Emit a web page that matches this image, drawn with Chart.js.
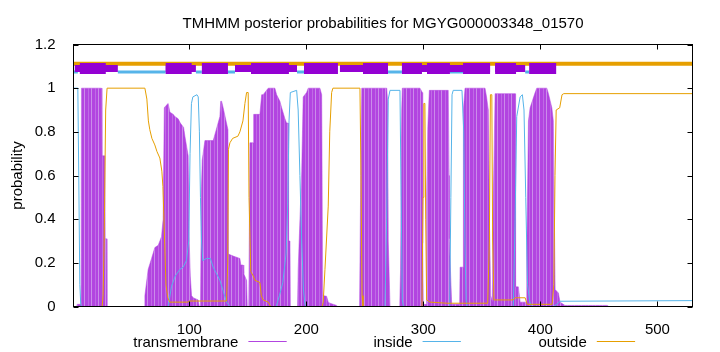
<!DOCTYPE html>
<html><head><meta charset="utf-8">
<script src="https://cdn.jsdelivr.net/npm/chart.js@4.4.1/dist/chart.umd.min.js"></script>
<style>html,body{margin:0;padding:0;background:#fff}#wrap{width:720px;height:352px;position:relative}</style>
</head><body><div id="wrap"><canvas id="c" width="720" height="352"></canvas></div>
<script>
const titleText = 'TMHMM posterior probabilities for MGYG000003348_01570';
const yAxisTitle = 'probability';
const seriesNames = ['transmembrane', 'inside', 'outside'];
const seqStart = 1;
const seqEnd = 530;
const xTicks = [100, 200, 300, 400, 500];
const yTicks = [0, 0.2, 0.4, 0.6, 0.8, 1, 1.2];

// posterior probability curves: [residue, probability]
const transmembrane = [
[1,0],[3.8,0],[4.1,0.01],[7.4,0.01],[7.8,1.0],[24.9,1.0],[25.3,0.69],[27.8,0.69],[28.1,0.31],[29.2,0.31],[29.6,0],
[61.5,0],[62,0.05],[64.8,0.17],[67.7,0.22],[70.5,0.27],[73.4,0.28],[76.2,0.32],[77.6,0.40],[78.6,0.91],[80,0.92],[81.9,0.93],[83.4,0.89],[86.2,0.88],[87.6,0.87],[90.4,0.86],[92.3,0.84],[95.1,0.82],[96.2,0.78],[99,0.69],[99.8,0.32],[100.8,0.14],[101.9,0.05],[103.3,0.04],[107.6,0.03],[108.5,0],
[109.5,0],[110.4,0.55],[111,0.67],[113.3,0.76],[120.4,0.76],[123,0.81],[126.1,0.87],[126.8,0.94],[127.6,0.94],[128.9,0.91],[133,0.81],[133.4,0.24],[138,0.23],[143.2,0.22],[144,0.19],[146,0.19],[146.5,0.15],[148.9,0.12],[149.5,0],
[150.8,0],[151.8,0.75],[154.6,0.75],[155,0.88],[160.3,0.88],[161.8,0.97],[163.1,0.97],[167.4,1.0],[173.1,1.0],[174.6,0.97],[177.4,0.94],[178.9,0.91],[181.7,0.86],[183.1,0.84],[184.5,0.84],[184.8,0.3],[186,0.3],[186.3,0],
[192.5,0],[193,0.17],[196,0.62],[197.3,0.96],[200.2,0.98],[201.6,1.0],[211.6,1.0],[213.1,0.97],[214,0.05],[217.3,0.047],[218.7,0.02],[220.2,0.015],[225.9,0.005],[226.5,0],
[245.5,0],[246.3,0.5],[247.3,1.0],[268.7,1.0],[269.5,0.93],[270,0.3],[271.5,0],
[279.8,0],[280.5,0.17],[281.5,0.9],[282,1.0],[297.1,1.0],[299.1,0.98],[299.4,0.29],[299.9,0.01],[302.5,0.01],[302.8,0.5],[303.7,0.81],[305.1,0.99],[321.3,0.99],[322,0.6],[322.2,0.31],[324.2,0.01],[331,0.01],[331.4,0.18],[334,0.18],[334.2,0.9],[335.6,1.0],[352.7,1.0],[354,0.96],[355.5,0.9],[356.4,0.4],[357.6,0.05],[359,0.02],[359.8,0.5],[361.3,0.975],[378.4,0.975],[378.8,0.09],[381.2,0.09],[382.7,0.02],[388.2,0.02],[388.4,0.245],[389.8,0.85],[391.2,0.91],[395.5,0.98],[396.9,1.0],[405.5,1.0],[406.9,0.975],[409.8,0.91],[411.1,0.85],[412.6,0.078],[415.4,0.062],[416.8,0.02],[419.6,0.01],[420,0.005],[457,0.005],[457.5,0],[530,0]
];
const inside = [
[1,1.0],[4.7,1.0],[5.5,0.6],[6.4,0.1],[7.2,0.01],[8,0],[81.9,0],[84.8,0.093],[88,0.14],[91.9,0.17],[94.7,0.18],[97.5,0.21],[99.5,0.3],[100.6,0.7],[101.8,0.93],[103,0.96],[106.5,0.97],[107.6,0.96],[108.6,0.8],[109.5,0.5],[110.4,0.3],[111.5,0.21],[114.5,0.22],[118,0.22],[120.4,0.18],[126.1,0.12],[129,0.07],[131.8,0.02],[134.7,0],
[174.2,0],[177,0.05],[179.9,0.11],[182.7,0.245],[184.1,0.47],[185.2,0.85],[186.3,0.98],[191.7,0.99],[193,0.9],[194.5,0.6],[196,0.3],[197.5,0.08],[198.8,0.01],[199.5,0],
[267.2,0],[268.6,0.4],[270,0.95],[271.5,0.99],[280,0.99],[281,0.5],[282,0.03],[283,0],
[322.5,0],[323.5,0.5],[324.5,0.97],[325.5,0.99],[333,0.99],[334.5,0.8],[335.5,0.3],[336.5,0.03],[337.5,0],
[376.9,0],[378.4,0.4],[379.8,0.87],[382.7,0.96],[384.6,0.97],[386,0.9],[387.5,0.5],[389,0.1],[391,0.02],[393,0],
[411,0],[414,0.01],[416.8,0.024],[530,0.027]
];
const outside = [
[1,0],[25.5,0],[26.3,0.05],[27.2,0.3],[28.5,0.9],[29.7,1.0],[62,1.0],[63.7,0.95],[65,0.85],[66.2,0.81],[68,0.77],[70.5,0.74],[72.3,0.71],[74.8,0.68],[76.5,0.62],[77.4,0.55],[78.6,0.35],[80,0.1],[81.6,0.04],[83.3,0.02],[98.7,0.02],[100,0.025],[126.1,0.025],[131.8,0.025],[132.8,0.2],[133.4,0.72],[134.7,0.75],[137,0.77],[141.5,0.78],[143.2,0.8],[145.8,0.85],[147.5,0.93],[148.9,0.98],[150.3,0.98],[151,0.5],[152.5,0.16],[154.6,0.14],[156,0.12],[160.3,0.11],[161.5,0.05],[163.1,0.03],[167.4,0.02],[169.5,0],
[213.5,0],[214.4,0.02],[215.9,0.17],[218.7,0.46],[220,0.8],[221.6,0.98],[222.7,1.0],[245.8,1.0],[246.7,0.6],[247.6,0.05],[248.4,0],
[298.8,0],[299.7,0.5],[300.4,0.93],[301.3,0.93],[302,0.4],[302.8,0.03],[305.7,0.02],[320,0.015],[355,0.015],[356.4,0.3],[357.3,0.97],[358.5,0.97],[359.2,0.3],[360.3,0.03],[376.7,0.03],[378.5,0.04],[387,0.04],[388.7,0.01],[410,0.01],[411.5,0.1],[412.5,0.6],[413.5,0.9],[416.5,0.91],[418.5,0.97],[420,0.975],[530,0.975]
];

// predicted topology strip: [start residue, end residue]
const topoOutside = [[1,530]];
const topoInside = [[1,4.7],[38.9,79.8],[105.6,110.7],[133,139],[192,198.5],[269.8,281.7],[322.7,334],[387,390.5]];
const topoHelixBand = [[2.1,38.9],[79.8,105.6],[139,192],[228.7,269.8],[281.7,339.9],[331.4,357],[361.3,387]];
const topoHelixCore = [[6.4,28.6],[79.8,102],[110.7,133],[152.7,185.1],[198,227],[248.4,269.8],[281.7,298.8],[303.1,322.7],[333.9,357],[361.3,379.2],[390.4,413.5]];

const FONT = '"Liberation Sans", Arial, Helvetica, sans-serif';
const C_TM = '#b245e0', C_TM_LIGHT = '#cb8cea', C_TM_BOX = '#9400d3';
const C_IN = '#56b4e9', C_OUT = '#e69f00';
const LEVEL = {outside: 1.112, inside: 1.074, helix: 1.09};

const pts = arr => arr.map(([x, y]) => ({x, y}));
const segs = (list, level) => list.flatMap(([s, e]) => [{x: s, y: level}, {x: e, y: level}, {x: e, y: null}]);

function stripePattern() {
  const pc = document.createElement('canvas');
  pc.width = 7; pc.height = 4;
  const g = pc.getContext('2d');
  g.fillStyle = C_TM; g.fillRect(0, 0, 7, 4);
  g.fillStyle = C_TM_LIGHT; g.fillRect(0, 0, 1, 4);
  g.fillStyle = '#c06ae6'; g.fillRect(4, 0, 1, 4);
  return g.createPattern(pc, 'repeat');
}

Chart.defaults.font.family = FONT;
Chart.defaults.font.size = 15;
Chart.defaults.color = '#000';

const TL = 5;
const deco = {
  id: 'deco',
  afterDatasetsDraw(chart) {
    const {ctx, chartArea: a, scales: {x, y}} = chart;
    ctx.save();
    ctx.strokeStyle = '#000'; ctx.lineWidth = 1;
    ctx.beginPath();
    xTicks.forEach(v => { const p = Math.round(x.getPixelForValue(v)) + 0.5;
      ctx.moveTo(p, a.bottom); ctx.lineTo(p, a.bottom - TL); ctx.moveTo(p, a.top); ctx.lineTo(p, a.top + TL); });
    yTicks.forEach(v => { const p = Math.round(y.getPixelForValue(v)) + 0.5;
      ctx.moveTo(a.left, p); ctx.lineTo(a.left + TL, p); ctx.moveTo(a.right, p); ctx.lineTo(a.right - TL, p); });
    ctx.stroke();
    ctx.strokeRect(a.left, a.top, a.right - a.left, a.bottom - a.top);
    ctx.fillStyle = '#000';
    ctx.font = '15px ' + FONT;
    ctx.textAlign = 'center'; ctx.textBaseline = 'alphabetic';
    ctx.fillText(titleText, (a.left + a.right) / 2, 27.5);
    const cols = [C_TM, C_IN, C_OUT];
    ctx.textAlign = 'right';
    seriesNames.forEach((n, i) => {
      const end = 286.7 + i * 174.2, start = end - 38.3;
      ctx.fillStyle = '#000';
      ctx.fillText(n, start - 10, 346.5);
      ctx.strokeStyle = cols[i]; ctx.lineWidth = 1;
      ctx.beginPath(); ctx.moveTo(start, 341.5); ctx.lineTo(end, 341.5); ctx.stroke();
    });
    ctx.restore();
  }
};

new Chart(document.getElementById('c'), {
  type: 'line',
  data: {
    datasets: [
      {label: 'outside', data: pts(outside), borderColor: C_OUT, borderWidth: 1, pointRadius: 0, fill: false, order: 1},
      {label: 'inside', data: pts(inside), borderColor: C_IN, borderWidth: 1, pointRadius: 0, fill: false, order: 2},
      {label: 'helix core', data: segs(topoHelixCore, LEVEL.helix), borderColor: C_TM_BOX, borderWidth: 11, borderCapStyle: 'butt', pointRadius: 0, fill: false, spanGaps: false, order: 3},
      {label: 'helix band', data: segs(topoHelixBand, LEVEL.helix), borderColor: C_TM_BOX, borderWidth: 7, borderCapStyle: 'butt', pointRadius: 0, fill: false, spanGaps: false, order: 4},
      {label: 'inside strip', data: segs(topoInside, LEVEL.inside), borderColor: C_IN, borderWidth: 3, borderCapStyle: 'butt', pointRadius: 0, fill: false, spanGaps: false, order: 5},
      {label: 'outside strip', data: segs(topoOutside, LEVEL.outside), borderColor: C_OUT, borderWidth: 4, borderCapStyle: 'butt', pointRadius: 0, fill: false, spanGaps: false, order: 6},
      {label: 'transmembrane', data: pts(transmembrane), borderColor: C_TM, borderWidth: 0.5, backgroundColor: stripePattern(), pointRadius: 0, fill: 'origin', order: 10}
    ]
  },
  options: {
    responsive: false,
    animation: false,
    devicePixelRatio: 1,
    layout: {padding: {top: 44.5, right: 27.5, left: 0, bottom: 0}},
    plugins: {legend: {display: false}, tooltip: {enabled: false}, title: {display: false}},
    elements: {line: {tension: 0}},
    scales: {
      x: {
        type: 'linear', min: seqStart, max: seqEnd,
        afterBuildTicks: s => { s.ticks = xTicks.map(v => ({value: v})); },
        afterFit: s => { s.height = 45.5; },
        grid: {display: false}, border: {display: false},
        ticks: {padding: 6, maxRotation: 0, autoSkip: false, color: '#000', font: {size: 15}}
      },
      y: {
        min: 0, max: 1.2,
        afterBuildTicks: s => { s.ticks = yTicks.map(v => ({value: v})); },
        afterFit: s => { s.width = 73.5; },
        grid: {display: false}, border: {display: false},
        ticks: {padding: 10, color: '#000', font: {size: 15}, callback: v => String(+Number(v).toFixed(1))},
        title: {display: true, text: yAxisTitle, padding: {top: 8.5, bottom: 0}, color: '#000', font: {size: 15}}
      }
    }
  },
  plugins: [deco]
});
</script>
</body></html>
